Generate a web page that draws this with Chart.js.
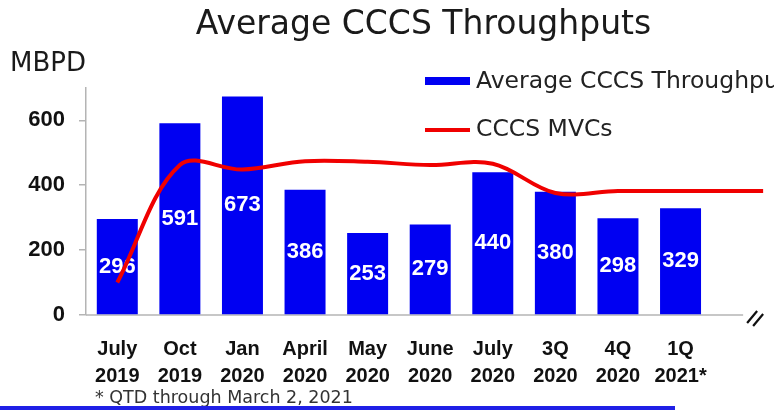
<!DOCTYPE html>
<html>
<head>
<meta charset="utf-8">
<script src="https://cdn.jsdelivr.net/npm/chart.js@4/dist/chart.umd.min.js"></script>
<style>
  html, body { margin: 0; padding: 0; background: #ffffff; overflow: hidden; }
  #wrap { width: 774px; height: 410px; overflow: hidden; position: relative; }
  canvas { display: block; }
</style>
</head>
<body>
<div id="wrap"><canvas id="c" width="840" height="410"></canvas></div>
<script>
// ---- data ----
const categories = [
  ['July', '2019'], ['Oct', '2019'], ['Jan', '2020'], ['April', '2020'], ['May', '2020'],
  ['June', '2020'], ['July', '2020'], ['3Q', '2020'], ['4Q', '2020'], ['1Q', '2021*'], '', ''
];
const throughputs = [296, 591, 673, 386, 253, 279, 440, 380, 298, 329, null, null];
const mvcs = [100, 462, 448, 474, 472, 462, 466, 376, 382, 382, 382, 382];
const yTicks = [0, 200, 400, 600];
const chartTitle = 'Average CCCS Throughputs';
const yUnit = 'MBPD';
const seriesNames = ['Average CCCS Throughputs', 'CCCS MVCs'];
const footnote = '* QTD through March 2, 2021';

const BLUE = '#0000f2';
const RED = '#f00000';

function breakX(chart) { return chart.scales.x.getPixelForValue(10); }

const decorPlugin = {
  id: 'decor',
  beforeDatasetsDraw(chart) {
    const ctx = chart.ctx, a = chart.chartArea;
    const end = breakX(chart);
    ctx.save();
    ctx.strokeStyle = '#b4b4b4';
    ctx.lineWidth = 1.5;
    ctx.beginPath();
    ctx.moveTo(a.left, a.bottom);
    ctx.lineTo(end, a.bottom);
    ctx.stroke();
    ctx.restore();
    // clip every series at the axis break
    ctx.save();
    ctx.beginPath();
    ctx.rect(0, 0, end + 20, chart.height);
    ctx.clip();
  },
  afterDatasetsDraw(chart) {
    const ctx = chart.ctx, a = chart.chartArea;
    ctx.restore();
    const end = breakX(chart);
    // axis break marks
    ctx.save();
    ctx.strokeStyle = '#111';
    ctx.lineWidth = 2.2;
    ctx.beginPath();
    ctx.moveTo(end + 4, a.bottom + 8);
    ctx.lineTo(end + 14, a.bottom - 4);
    ctx.moveTo(end + 10, a.bottom + 11);
    ctx.lineTo(end + 20, a.bottom - 1);
    ctx.stroke();
    ctx.restore();
  },
  afterDatasetDraw(chart, args) {
    if (args.index !== 0) return;
    const ctx = chart.ctx;
    const meta = chart.getDatasetMeta(0);
    ctx.save();
    ctx.fillStyle = '#ffffff';
    ctx.font = 'bold 22px "Liberation Sans", Arial, sans-serif';
    ctx.textAlign = 'center';
    ctx.textBaseline = 'middle';
    meta.data.forEach((bar, i) => {
      const v = chart.data.datasets[0].data[i];
      if (v == null) return;
      const p = bar.getProps(['x', 'y', 'base'], true);
      ctx.fillText(String(v), p.x, (p.y + p.base) / 2);
    });
    ctx.restore();
  },
  afterDraw(chart) {
    const ctx = chart.ctx, a = chart.chartArea;
    const lx = a.left + 339;
    ctx.save();
    // legend
    ctx.fillStyle = chart.data.datasets[0].backgroundColor;
    ctx.fillRect(lx, 77, 45, 8);
    ctx.strokeStyle = chart.data.datasets[1].borderColor;
    ctx.lineWidth = 4;
    ctx.beginPath();
    ctx.moveTo(lx, 130);
    ctx.lineTo(lx + 45, 130);
    ctx.stroke();
    ctx.fillStyle = '#222';
    ctx.font = '23.5px "DejaVu Sans", sans-serif';
    ctx.textBaseline = 'middle';
    ctx.textAlign = 'left';
    ctx.fillText(chart.data.datasets[0].label, lx + 51, 82);
    ctx.fillText(chart.data.datasets[1].label, lx + 51, 130);
    // footnote
    ctx.fillStyle = '#333';
    ctx.font = '17.5px "DejaVu Sans", sans-serif';
    ctx.textBaseline = 'alphabetic';
    ctx.fillText(footnote, a.left + 9, 403);
    // slide rule at the bottom
    ctx.fillStyle = '#2020e6';
    ctx.fillRect(0, 406, 675, 4);
    ctx.restore();
  }
};

new Chart(document.getElementById('c'), {
  data: {
    labels: categories,
    datasets: [
      {
        type: 'bar',
        label: seriesNames[0],
        data: throughputs,
        backgroundColor: BLUE,
        barPercentage: 0.655,
        categoryPercentage: 1.0,
        order: 1
      },
      {
        type: 'line',
        label: seriesNames[1],
        data: mvcs,
        borderColor: RED,
        borderWidth: 4,
        pointRadius: 0,
        tension: 0.35,
        fill: false,
        clip: false,
        order: 0
      }
    ]
  },
  options: {
    responsive: false,
    animation: false,
    devicePixelRatio: 1,
    layout: { padding: { left: 10, right: 3, top: 0, bottom: 0 } },
    plugins: {
      legend: { display: false },
      tooltip: { enabled: false },
      title: {
        display: true,
        text: chartTitle,
        color: '#1a1a1a',
        font: { family: '"DejaVu Sans", sans-serif', size: 33, weight: 'normal' },
        padding: { top: 6, bottom: 3 }
      },
      subtitle: {
        display: true,
        text: yUnit,
        align: 'start',
        color: '#1a1a1a',
        font: { family: '"DejaVu Sans", sans-serif', size: 26, weight: 'normal' },
        padding: { top: 0, bottom: 8 }
      }
    },
    scales: {
      x: {
        type: 'category',
        grid: { display: false },
        border: { display: false },
        ticks: {
          autoSkip: false,
          maxRotation: 0,
          minRotation: 0,
          color: '#111',
          padding: 13,
          font: { family: '"Liberation Sans", Arial, sans-serif', size: 20, weight: 'bold', lineHeight: 1.35 }
        },
        afterFit(s) { s.height = 95; }
      },
      y: {
        min: 0,
        max: 700,
        grid: { display: true, drawOnChartArea: false, drawTicks: true, tickLength: 7, color: '#b4b4b4', lineWidth: 1.5 },
        border: { display: true, color: '#b4b4b4', width: 1.5 },
        afterBuildTicks(s) { s.ticks = yTicks.map(v => ({ value: v })); },
        ticks: {
          color: '#111',
          padding: 14,
          font: { family: '"Liberation Sans", Arial, sans-serif', size: 22, weight: 'bold' }
        },
        afterFit(s) { s.width = 76; }
      }
    }
  },
  plugins: [decorPlugin]
});
</script>
</body>
</html>
